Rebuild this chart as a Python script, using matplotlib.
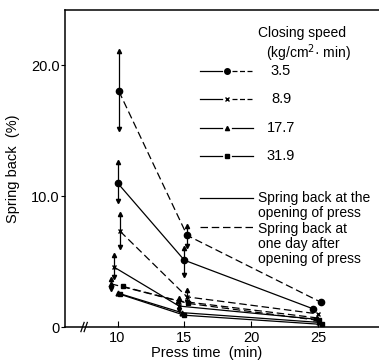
import matplotlib
matplotlib.use("Agg")
import matplotlib.pyplot as plt
from matplotlib.lines import Line2D
import numpy as np

plt.rcParams['font.family'] = ['Liberation Sans', 'DejaVu Sans']

# Press time (min)
press_time = [10, 15, 25]

# Closing speed (kg/cm^2 min) and plot markers
speeds = ["3.5", "8.9", "17.7", "31.9"]
markers = ["o", "x", "^", "s"]

# Spring back at the opening of press (%)
sb_open = {
    "3.5": [11.0, 5.1, 1.4],
    "8.9": [4.6, 1.6, 0.6],
    "17.7": [2.6, 1.1, 0.35],
    "31.9": [2.5, 0.9, 0.2],
}
# Spring back at one day after opening of press (%)
sb_day = {
    "3.5": [18.0, 7.0, 1.9],
    "8.9": [7.3, 2.3, 1.0],
    "17.7": [3.3, 2.0, 0.7],
    "31.9": [3.1, 1.8, 0.5],
}
# Small horizontal offsets so clustered points stay visible
offset_open = {"3.5": [0.0, 0.0, -0.4], "8.9": [-0.3, -0.4, -0.2],
               "17.7": [0.0, -0.2, 0.1], "31.9": [0.2, 0.0, 0.3]}
offset_day = {"3.5": [0.1, 0.2, 0.2], "8.9": [0.2, 0.2, 0.0],
              "17.7": [-0.5, -0.5, -0.1], "31.9": [0.4, 0.3, 0.1]}

# Ranges (min, max) shown as arrowed bars: (speed, kind, time index, low, high)
ranges = [
    ("3.5", "day", 0, 15.1, 21.1),
    ("3.5", "open", 0, 9.6, 12.6),
    ("8.9", "day", 0, 6.1, 8.6),
    ("8.9", "open", 0, 3.8, 5.5),
    ("17.7", "day", 0, 2.9, 3.7),
    ("3.5", "day", 1, 6.2, 7.7),
    ("3.5", "open", 1, 4.0, 6.0),
    ("8.9", "day", 1, 1.9, 2.8),
    ("8.9", "open", 1, 1.3, 2.2),
]

fig = plt.figure(figsize=(3.79, 3.64), dpi=100)
ax = fig.add_axes([0.1715, 0.1016, 0.8285, 0.8709])
ax.set_xlim(6.07, 29.56)
ax.set_ylim(0, 24.2)

lw = 0.9
for sp, mk in zip(speeds, markers):
    xo = np.array(press_time) + np.array(offset_open[sp])
    xd = np.array(press_time) + np.array(offset_day[sp])
    ms = 4.5 if mk == "o" else 3.5
    kw = dict(color="black", marker=mk, markersize=ms, lw=lw,
              markeredgewidth=1.0)
    ax.plot(xo, sb_open[sp], linestyle="-", **kw)
    ax.plot(xd, sb_day[sp], linestyle=(0, (6, 3)), **kw)

for sp, kind, i, lo, hi in ranges:
    offs = offset_open if kind == "open" else offset_day
    x = press_time[i] + offs[sp][i]
    ax.plot([x, x], [lo, hi], color="black", lw=lw)
    ax.plot([x], [hi], marker="^", color="black", markersize=3)
    ax.plot([x], [lo], marker="v", color="black", markersize=3)

# Axes styling
ax.spines["right"].set_visible(False)
for s in ("left", "bottom", "top"):
    ax.spines[s].set_linewidth(1.1)
ax.set_xticks([10, 15, 20, 25])
ax.set_xticklabels(["10", "15", "20", "25"], fontsize=10.5)
ax.set_yticks([0, 10, 20])
ax.set_yticklabels(["0", "10.0", "20.0"], fontsize=10.5)
ax.tick_params(axis="x", direction="in", length=4, width=0.8, pad=3)
ax.tick_params(axis="y", direction="out", length=3, width=0.8, pad=1)
ax.set_xlabel("Press time  (min)", fontsize=10.5, labelpad=0)
ax.xaxis.set_label_coords(0.45, -0.06)
ax.set_ylabel("Spring back  (%)", fontsize=10.5, labelpad=8)

# Axis break marks on the time axis
for dx in (-0.12, 0.12):
    ax.plot([7.5 + dx - 0.12, 7.5 + dx + 0.12], [-0.35, 0.35],
            color="black", lw=0.9, clip_on=False)

# Legend for closing speed
ax.text(0.755, 0.927, "Closing speed", transform=ax.transAxes,
        fontsize=10, ha="center", va="center")
ax.text(0.777, 0.864, "(kg/cm$^{2}$· min)", transform=ax.transAxes,
        fontsize=10, ha="center", va="center")
leg_y = [0.808, 0.719, 0.628, 0.539]
leg_dash = [True, True, False, False]
for sp, mk, yy, dsh in zip(speeds, markers, leg_y, leg_dash):
    ms = 4 if mk == "o" else 3
    ax.add_line(Line2D([0.43, 0.50], [yy, yy], transform=ax.transAxes,
                       color="black", lw=lw))
    ax.add_line(Line2D([0.533, 0.60], [yy, yy], transform=ax.transAxes,
                       color="black", lw=lw,
                       linestyle=(0, (4, 2)) if dsh else "-"))
    ax.add_line(Line2D([0.516], [yy], transform=ax.transAxes,
                       color="black", marker=mk, markersize=ms, lw=0))
    ax.text(0.688, yy, sp, transform=ax.transAxes, fontsize=10.5,
            ha="center", va="center")

# Legend for line styles
ax.add_line(Line2D([0.43, 0.60], [0.407, 0.407], transform=ax.transAxes,
                   color="black", lw=lw))
ax.add_line(Line2D([0.43, 0.60], [0.315, 0.315], transform=ax.transAxes,
                   color="black", lw=lw, linestyle=(0, (6, 3))))
ax.text(0.615, 0.383, "Spring back at the\nopening of press",
        transform=ax.transAxes, fontsize=10, ha="left", va="center",
        linespacing=1.1)
ax.text(0.615, 0.262, "Spring back at\none day after\nopening of press",
        transform=ax.transAxes, fontsize=10, ha="left", va="center",
        linespacing=1.1)

fig.savefig("out.png", dpi=100)
